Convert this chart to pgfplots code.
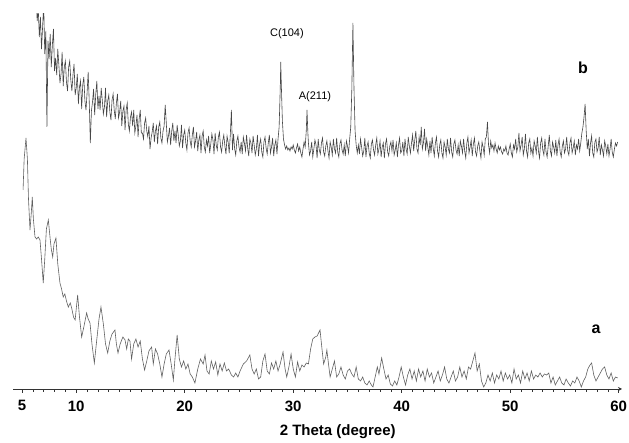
\documentclass[border=0pt]{standalone}
\usepackage{fontspec}
\setmainfont{Liberation Sans}
\usepackage{pgfplots}
\pgfplotsset{compat=1.18}
\usetikzlibrary{arrows.meta}
\begin{document}
\begin{tikzpicture}
\begin{axis}[
  at={(0,0)}, anchor=south west,
  scale only axis, width=608.7pt, height=375pt,
  xmin=4.2, xmax=60.3, ymin=0, ymax=375,
  axis x line=bottom, axis y line=none,
  x axis line style={-{Stealth[length=4pt,width=4pt]}, line width=0.7pt, black!80},
  xtick={5,10,20,30,40,50,60},
  minor xtick={5,6,...,60},
  tick align=outside,
  major tick length=4pt, minor tick length=3pt,
  tick style={black!80, line width=0.6pt},
  /pgf/number format/assume math mode=true,
  xticklabel style={font=\fontsize{15}{15}\selectfont\bfseries, yshift=-4pt},
  xlabel={2 Theta (degree)},
  xlabel style={at={(axis description cs:0.533,0)}, anchor=center, yshift=-43pt, font=\fontsize{15}{15}\selectfont\bfseries},
]
% trace b
\addplot[black!72, line width=0.6pt] table[row sep=\\] {
6.3 395\\ 6.4 368\\ 6.5 380\\ 6.6 352\\ 6.7 372\\ 6.8 340\\ 6.9 362\\ 7.0 385\\ 7.1 335\\ 7.2 358\\
7.3 262\\ 7.4 348\\ 7.5 330\\ 7.6 355\\ 7.7 322\\ 7.8 344\\ 7.9 360\\ 8.0 318\\
8.1 331\\ 8.2 314\\ 8.3 340\\ 8.4 324\\ 8.5 306\\ 8.6 315\\ 8.7 337\\ 8.8 303\\ 8.9 322\\ 9.0 328\\
9.1 307\\ 9.2 298\\ 9.3 322\\ 9.4 328\\ 9.5 309\\ 9.6 298\\ 9.7 314\\ 9.8 325\\ 9.9 294\\ 10.0 301\\
10.1 315\\ 10.2 285\\ 10.3 302\\ 10.4 308\\ 10.5 280\\ 10.6 304\\ 10.7 312\\ 10.8 288\\ 10.9 279\\ 11.0 296\\
11.1 317\\ 11.2 287\\ 11.3 246\\ 11.4 278\\ 11.5 287\\ 11.6 300\\ 11.7 274\\ 11.8 295\\ 11.9 308\\ 12.0 280\\
12.1 293\\ 12.2 279\\ 12.3 301\\ 12.4 289\\ 12.5 275\\ 12.6 282\\ 12.7 301\\ 12.8 272\\ 12.9 288\\ 13.0 294\\
13.1 277\\ 13.2 269\\ 13.3 289\\ 13.4 295\\ 13.5 279\\ 13.6 270\\ 13.7 286\\ 13.8 295\\ 13.9 271\\ 14.0 277\\
14.1 288\\ 14.2 263\\ 14.3 278\\ 14.4 283\\ 14.5 259\\ 14.6 279\\ 14.7 286\\ 14.8 265\\ 14.9 258\\ 15.0 272\\
15.1 277\\ 15.2 263\\ 15.3 279\\ 15.4 256\\ 15.5 263\\ 15.6 274\\ 15.7 252\\ 15.8 270\\ 15.9 279\\ 16.0 256\\
16.1 256\\ 16.2 250\\ 16.3 266\\ 16.4 271\\ 16.5 258\\ 16.6 252\\ 16.7 263\\ 16.8 240\\ 16.9 251\\ 17.0 257\\
17.1 266\\ 17.2 247\\ 17.3 258\\ 17.4 263\\ 17.5 245\\ 17.6 262\\ 17.7 267\\ 17.8 251\\ 17.9 246\\ 18.0 258\\
18.1 263\\ 18.2 284\\ 18.3 266\\ 18.4 247\\ 18.5 253\\ 18.6 261\\ 18.7 244\\ 18.8 258\\ 18.9 266\\ 19.0 248\\
19.1 258\\ 19.2 246\\ 19.3 264\\ 19.4 254\\ 19.5 243\\ 19.6 248\\ 19.7 264\\ 19.8 241\\ 19.9 254\\ 20.0 259\\
20.1 246\\ 20.2 239\\ 20.3 256\\ 20.4 261\\ 20.5 248\\ 20.6 242\\ 20.7 254\\ 20.8 262\\ 20.9 242\\ 21.0 248\\
21.1 257\\ 21.2 238\\ 21.3 249\\ 21.4 254\\ 21.5 236\\ 21.6 253\\ 21.7 258\\ 21.8 242\\ 21.9 237\\ 22.0 249\\
22.1 243\\ 22.2 253\\ 22.3 236\\ 22.4 245\\ 22.5 255\\ 22.6 249\\ 22.7 235\\ 22.8 256\\ 22.9 244\\ 23.0 239\\
23.1 252\\ 23.2 257\\ 23.3 242\\ 23.4 237\\ 23.5 248\\ 23.6 254\\ 23.7 243\\ 23.8 235\\ 23.9 253\\ 24.0 247\\
24.1 236\\ 24.2 254\\ 24.3 279\\ 24.4 239\\ 24.5 255\\ 24.6 240\\ 24.7 234\\ 24.8 248\\ 24.9 253\\ 25.0 242\\
25.1 237\\ 25.2 247\\ 25.3 235\\ 25.4 252\\ 25.5 246\\ 25.6 238\\ 25.7 254\\ 25.8 241\\ 25.9 233\\ 26.0 250\\
26.1 246\\ 26.2 236\\ 26.3 253\\ 26.4 244\\ 26.5 234\\ 26.6 240\\ 26.7 254\\ 26.8 233\\ 26.9 245\\ 27.0 250\\
27.1 237\\ 27.2 232\\ 27.3 247\\ 27.4 252\\ 27.5 241\\ 27.6 235\\ 27.7 246\\ 27.8 254\\ 27.9 236\\ 28.0 242\\
28.1 251\\ 28.2 233\\ 28.3 244\\ 28.4 249\\ 28.5 235\\ 28.6 250\\ 28.7 262\\ 28.8 300\\ 28.85 327\\ 28.9 305\\
29.0 268\\ 29.1 250\\ 29.2 244\\ 29.3 240\\ 29.4 243\\ 29.5 239\\ 29.6 241\\ 29.7 238\\ 29.8 242\\ 29.9 240\\
30.0 244\\ 30.1 239\\ 30.2 236\\ 30.3 241\\ 30.4 245\\ 30.5 238\\ 30.6 242\\ 30.7 236\\ 30.8 232\\ 30.9 240\\
31.0 247\\ 31.1 242\\ 31.2 258\\ 31.27 279\\ 31.35 256\\ 31.4 246\\ 31.5 234\\ 31.6 238\\ 31.7 247\\ 31.8 232\\
31.9 240\\ 32.0 249\\ 32.1 244\\ 32.2 231\\ 32.3 250\\ 32.4 239\\ 32.5 235\\ 32.6 246\\ 32.7 251\\ 32.8 237\\
32.9 233\\ 33.0 243\\ 33.1 248\\ 33.2 238\\ 33.3 231\\ 33.4 247\\ 33.5 242\\ 33.6 234\\ 33.7 250\\ 33.8 240\\
33.9 236\\ 34.0 251\\ 34.1 237\\ 34.2 232\\ 34.3 245\\ 34.4 249\\ 34.5 239\\ 34.6 235\\ 34.7 244\\ 34.8 233\\
34.9 248\\ 35.0 243\\ 35.1 236\\ 35.2 250\\ 35.3 262\\ 35.4 300\\ 35.5 366\\ 35.6 300\\ 35.7 258\\ 35.8 244\\
35.9 236\\ 36.0 244\\ 36.1 235\\ 36.2 250\\ 36.3 242\\ 36.4 233\\ 36.5 238\\ 36.6 251\\ 36.7 232\\ 36.8 243\\
36.9 247\\ 37.0 236\\ 37.1 231\\ 37.2 245\\ 37.3 249\\ 37.4 239\\ 37.5 234\\ 37.6 244\\ 37.7 251\\ 37.8 235\\
37.9 240\\ 38.0 248\\ 38.1 232\\ 38.2 242\\ 38.3 246\\ 38.4 231\\ 38.5 245\\ 38.6 250\\ 38.7 237\\ 38.8 233\\
38.9 243\\ 39.0 247\\ 39.1 238\\ 39.2 249\\ 39.3 234\\ 39.4 239\\ 39.5 246\\ 39.6 232\\ 39.7 244\\ 39.8 251\\
39.9 236\\ 40.0 238\\ 40.1 247\\ 40.2 233\\ 40.3 250\\ 40.4 240\\ 40.5 235\\ 40.6 252\\ 40.7 243\\ 40.8 236\\
40.9 246\\ 41.0 254\\ 41.1 238\\ 41.2 249\\ 41.3 258\\ 41.4 240\\ 41.5 236\\ 41.6 252\\ 41.7 244\\ 41.8 262\\
41.9 240\\ 42.0 246\\ 42.1 260\\ 42.2 238\\ 42.3 250\\ 42.4 242\\ 42.5 234\\ 42.6 248\\ 42.7 236\\ 42.8 252\\
42.9 241\\ 43.0 233\\ 43.1 246\\ 43.2 252\\ 43.3 238\\ 43.4 232\\ 43.5 244\\ 43.6 249\\ 43.7 236\\ 43.8 231\\
43.9 247\\ 44.0 242\\ 44.1 234\\ 44.2 250\\ 44.3 240\\ 44.4 236\\ 44.5 251\\ 44.6 237\\ 44.7 232\\ 44.8 245\\
44.9 249\\ 45.0 239\\ 45.1 235\\ 45.2 244\\ 45.3 233\\ 45.4 248\\ 45.5 243\\ 45.6 236\\ 45.7 250\\ 45.8 238\\
45.9 231\\ 46.0 246\\ 46.1 252\\ 46.2 236\\ 46.3 242\\ 46.4 249\\ 46.5 233\\ 46.6 245\\ 46.7 251\\ 46.8 237\\
46.9 233\\ 47.0 243\\ 47.1 247\\ 47.2 238\\ 47.3 231\\ 47.4 247\\ 47.5 242\\ 47.6 234\\ 47.7 250\\ 47.8 252\\
47.9 267\\ 48.0 244\\ 48.1 236\\ 48.2 248\\ 48.3 241\\ 48.4 244\\ 48.5 238\\ 48.6 246\\ 48.7 240\\ 48.8 236\\
48.9 243\\ 49.0 239\\ 49.1 242\\ 49.2 237\\ 49.3 235\\ 49.4 240\\ 49.5 238\\ 49.6 243\\ 49.7 236\\ 49.8 234\\
49.9 240\\ 50.0 245\\ 50.1 236\\ 50.2 232\\ 50.3 244\\ 50.4 240\\ 50.5 250\\ 50.6 237\\ 50.7 242\\ 50.8 256\\
50.9 238\\ 51.0 244\\ 51.1 252\\ 51.2 234\\ 51.3 240\\ 51.4 255\\ 51.5 238\\ 51.6 232\\ 51.7 246\\ 51.8 250\\
51.9 236\\ 52.0 241\\ 52.1 233\\ 52.2 248\\ 52.3 243\\ 52.4 236\\ 52.5 252\\ 52.6 238\\ 52.7 231\\ 52.8 246\\
52.9 251\\ 53.0 239\\ 53.1 234\\ 53.2 250\\ 53.3 237\\ 53.4 232\\ 53.5 243\\ 53.6 254\\ 53.7 238\\ 53.8 233\\
53.9 247\\ 54.0 242\\ 54.1 236\\ 54.2 249\\ 54.3 233\\ 54.4 244\\ 54.5 250\\ 54.6 237\\ 54.7 232\\ 54.8 243\\
54.9 248\\ 55.0 236\\ 55.1 240\\ 55.2 252\\ 55.3 238\\ 55.4 234\\ 55.5 246\\ 55.6 251\\ 55.7 236\\ 55.8 241\\
55.9 248\\ 56.0 234\\ 56.1 244\\ 56.2 240\\ 56.3 250\\ 56.4 238\\ 56.5 246\\ 56.6 256\\ 56.7 262\\ 56.8 272\\
56.9 285\\ 57.0 258\\ 57.1 240\\ 57.2 250\\ 57.3 233\\ 57.4 246\\ 57.5 253\\ 57.6 236\\ 57.7 232\\ 57.8 247\\
57.9 250\\ 58.0 237\\ 58.1 241\\ 58.2 252\\ 58.3 234\\ 58.4 244\\ 58.5 239\\ 58.6 233\\ 58.7 248\\ 58.8 243\\
58.9 235\\ 59.0 245\\ 59.1 233\\ 59.2 240\\ 59.3 250\\ 59.4 237\\ 59.5 232\\ 59.6 240\\ 59.7 246\\ 59.8 243\\
59.9 247\\
};
% trace a
\addplot[black!62, line width=0.6pt] coordinates {
(5.1,199)(5.2,230)(5.37,251)(5.5,230)(5.6,190)(5.74,159)(5.85,175)(5.95,192)(6.05,170)(6.2,152)
(6.35,150)(6.5,152)(6.66,149)(6.8,130)(6.96,106)(7.1,130)(7.25,160)(7.43,169)(7.6,150)(7.7,140)
(7.83,132)(7.95,145)(8.13,151)(8.3,125)(8.5,106)(8.65,100)(8.8,92)(8.95,95)(9.1,88)(9.27,82)
(9.45,86)(9.58,81)(9.75,72)(9.9,69)(10.13,94)(10.3,72)(10.5,52)(10.7,62)(10.96,76)(11.1,70)
(11.27,66)(11.45,45)(11.67,26)(11.9,50)(12.1,70)(12.28,82)(12.5,65)(12.7,45)(12.9,36)(13.1,48)
(13.3,55)(13.57,59)(13.7,45)(13.85,36)(14.05,45)(14.3,52)(14.5,49)(14.65,40)(14.8,50)(14.95,48)
(15.1,30)(15.3,45)(15.5,50)(15.7,42)(15.9,48)(16.1,30)(16.3,19)(16.5,28)(16.7,38)(16.95,42)
(17.1,25)(17.3,40)(17.5,35)(17.7,25)(17.9,12)(18.1,25)(18.3,35)(18.55,39)(18.75,25)(18.95,9)
(19.1,30)(19.3,54)(19.5,30)(19.7,22)(19.9,28)(20.1,20)(20.3,25)(20.5,15)(20.7,12)(20.94,6)
(21.2,20)(21.45,30)(21.7,25)(21.87,34)(22.05,18)(22.25,15)(22.45,28)(22.65,20)(22.85,27)(23.05,14)
(23.25,25)(23.45,18)(23.65,26)(23.85,18)(24.05,20)(24.3,14)(24.5,12)(24.7,16)(24.9,12)(25.1,18)
(25.4,25)(25.7,28)(26.0,34)(26.2,20)(26.4,15)(26.6,20)(26.8,10)(27.0,12)(27.2,28)(27.4,35)
(27.6,18)(27.8,15)(28.0,26)(28.2,20)(28.4,28)(28.6,18)(28.8,25)(29.06,37)(29.25,20)(29.4,12)
(29.6,22)(29.8,35)(30.0,20)(30.2,12)(30.4,27)(30.6,18)(30.8,24)(31.0,22)(31.2,26)(31.4,25)
(31.6,40)(31.8,50)(32.0,52)(32.2,53)(32.47,59)(32.65,40)(32.8,25)(33.0,32)(33.1,39)(33.25,25)
(33.4,12)(33.6,20)(33.8,28)(34.0,12)(34.2,15)(34.4,22)(34.6,14)(34.8,10)(35.0,18)(35.2,20)
(35.4,15)(35.6,12)(35.8,22)(36.0,10)(36.2,8)(36.4,12)(36.6,6)(36.8,4)(37.0,8)(37.2,4)
(37.35,2)(37.55,12)(37.75,22)(37.9,15)(38.15,31)(38.35,20)(38.55,10)(38.75,14)(38.95,5)(39.15,3)
(39.35,8)(39.55,4)(39.75,12)(39.95,22)(40.15,12)(40.35,4)(40.55,14)(40.75,20)(40.95,10)(41.15,18)
(41.35,8)(41.55,20)(41.75,12)(41.95,18)(42.15,8)(42.35,20)(42.55,12)(42.75,16)(42.95,6)(43.15,12)
(43.35,18)(43.55,8)(43.75,14)(43.95,22)(44.15,10)(44.35,6)(44.55,12)(44.75,18)(44.95,8)(45.15,12)
(45.35,22)(45.55,12)(45.75,18)(45.95,10)(46.15,22)(46.35,20)(46.55,28)(46.75,36)(46.95,18)(47.15,25)
(47.35,8)(47.55,2)(47.75,6)(47.95,14)(48.15,8)(48.35,16)(48.55,6)(48.75,14)(48.95,10)(49.15,18)
(49.35,8)(49.55,16)(49.75,10)(49.95,14)(50.15,6)(50.35,20)(50.55,10)(50.75,14)(50.95,6)(51.15,18)
(51.35,10)(51.55,16)(51.75,8)(51.95,18)(52.15,10)(52.35,14)(52.55,12)(52.75,16)(52.95,12)(53.15,15)
(53.35,14)(53.55,16)(53.75,6)(53.95,12)(54.15,4)(54.35,8)(54.55,12)(54.75,6)(54.95,4)(55.15,10)
(55.35,6)(55.55,3)(55.75,8)(55.95,6)(56.15,12)(56.35,8)(56.55,2)(56.75,8)(56.95,12)(57.15,20)
(57.35,24)(57.5,26)(57.7,14)(57.9,8)(58.1,12)(58.3,16)(58.5,20)(58.7,22)(58.9,14)(59.1,10)
(59.3,16)(59.5,8)(59.7,12)(59.9,11)
};
\node[font=\fontsize{11}{11}\selectfont] at (axis cs:29.42,355) {C(104)};
\node[font=\fontsize{11}{11}\selectfont] at (axis cs:32.0,292) {A(211)};
\node[font=\fontsize{16}{16}\selectfont\bfseries] at (axis cs:56.7,321) {b};
\node[font=\fontsize{16}{16}\selectfont\bfseries] at (axis cs:57.9,60) {a};
\end{axis}
\pgfresetboundingbox
\path[use as bounding box] (-13.3pt,-54pt) rectangle (615.7pt,389pt);
\end{tikzpicture}
\end{document}
